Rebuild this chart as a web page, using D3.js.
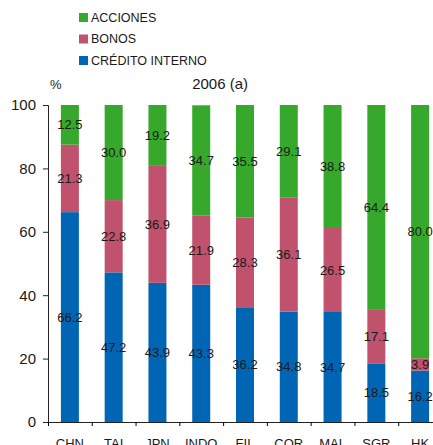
<!DOCTYPE html>
<html>
<head>
<meta charset="utf-8">
<script src="https://cdn.jsdelivr.net/npm/d3@7"></script>
<style>
body { margin: 0; background: #fff; }
text { font-family: "Liberation Sans", Arial, sans-serif; fill: #1a1a1a; }
</style>
</head>
<body>
<svg id="chart" width="433" height="445"></svg>
<script>
// datos
let paises = ['CHN', 'TAI', 'JPN', 'INDO', 'FIL', 'COR', 'MAL', 'SGR', 'HK']
let credito = [66.2, 47.2, 43.9, 43.3, 36.2, 34.8, 34.7, 18.5, 16.2]
let bonos = [21.3, 22.8, 36.9, 21.9, 28.3, 36.1, 26.5, 17.1, 3.9]
let acciones = [12.5, 30.0, 19.2, 34.7, 35.5, 29.1, 38.8, 64.4, 80.0]
let yTicks = [0, 20, 40, 60, 80, 100]

let series = ['credito', 'bonos', 'acciones']
let nombres = {'acciones': 'ACCIONES', 'bonos': 'BONOS', 'credito': 'CRÉDITO INTERNO'}
let colores = {'acciones': '#36a82b', 'bonos': '#c0526e', 'credito': '#0066b3'}

let tabla = paises.map((p, i) => {return {'pais': p, 'credito': credito[i], 'bonos': bonos[i], 'acciones': acciones[i]}})

let svg = d3.select('#chart')

let x = d3.scaleBand(paises, [48, 442]).paddingInner(0).paddingOuter(0)
let y = d3.scaleLinear([0, 100], [422, 105])
let barW = 18

let stack = d3.stack().keys(series)(tabla)

// barras
let capas = svg.selectAll('g.capa').data(stack).join('g')
    .attr('class', 'capa')
    .attr('fill', (d) => {return colores[d.key]})

capas.selectAll('rect').data((d) => {return d}).join('rect')
    .attr('x', (d) => {return x(d.data.pais) + x.bandwidth() / 2 - barW / 2})
    .attr('width', barW)
    .attr('y', (d) => {return y(Math.min(d[1], 100))})
    .attr('height', (d) => {return y(d[0]) - y(Math.min(d[1], 100))})

// etiquetas de valores
stack.forEach((s) => {
    svg.append('g').selectAll('text').data(s).join('text')
        .attr('x', (d) => {return x(d.data.pais) + x.bandwidth() / 2})
        .attr('y', (d) => {return y((d[0] + d[1]) / 2)})
        .attr('dy', '0.35em')
        .attr('text-anchor', 'middle')
        .style('font-size', '13px')
        .text((d) => {return d.data[s.key].toFixed(1)})
})

// ejes
let yAxis = d3.axisLeft(y).tickValues(yTicks).tickSize(5).tickPadding(7)
let gy = svg.append('g').attr('transform', 'translate(48,0)').call(yAxis)
gy.selectAll('text').style('font-size', '15px')

let xAxis = d3.axisBottom(x).tickSize(0).tickPadding(17)
let gx = svg.append('g').attr('transform', 'translate(0,422)').call(xAxis)
gx.selectAll('text').style('font-size', '13px')
gx.select('.domain').attr('d', 'M46,0.5H442')
// marcas entre categorías
gx.selectAll('line.sep').data(paises).join('line')
    .attr('class', 'sep')
    .attr('x1', (d) => {return x(d) + 0.5})
    .attr('x2', (d) => {return x(d) + 0.5})
    .attr('y1', 0)
    .attr('y2', 4)
    .attr('stroke', '#000')

svg.selectAll('.domain, .tick line').attr('stroke', '#222')

// leyenda
let leyenda = svg.append('g').selectAll('g').data(['acciones', 'bonos', 'credito']).join('g')
    .attr('transform', (d, i) => {return 'translate(79,' + (13 + i * 21.5) + ')'})
leyenda.append('rect').attr('width', 9).attr('height', 9).attr('fill', (d) => {return colores[d]})
leyenda.append('text').attr('x', 12).attr('y', 4.5).attr('dy', '0.35em')
    .style('font-size', '12.5px')
    .text((d) => {return nombres[d]})

// títulos
svg.append('text').attr('x', 50).attr('y', 89).style('font-size', '13px').text('%')
svg.append('text').attr('x', 248).attr('y', 89).attr('text-anchor', 'end').style('font-size', '15px').text('2006 (a)')
</script>
</body>
</html>
